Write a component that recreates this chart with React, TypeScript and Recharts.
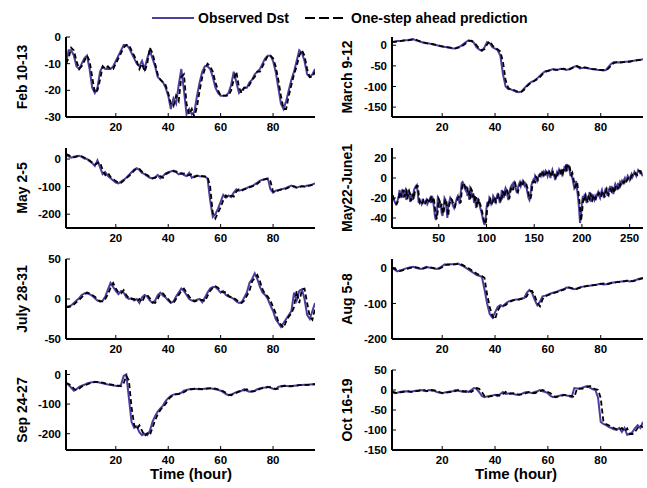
import { LineChart, Line, XAxis, YAxis } from "recharts";

// hourly Dst (nT), observed and one-step-ahead predicted, per storm interval
const febObs = [-10, -5, -5, -7, -11, -12, -10, -8, -7, -12, -19, -21, -19, -13, -11, -12, -12, -12, -11, -9, -7, -5, -3, -3, -4, -6, -8, -10, -11, -9, -12, -8, -5, -8, -11, -15, -16, -17, -19, -22, -27, -23, -25, -18, -12, -20, -29, -27, -29, -28, -22, -17, -13, -11, -11, -12, -15, -19, -21, -22, -22, -22, -21, -18, -13, -17, -21, -20, -19, -19, -17, -16, -14, -13, -12, -10, -8, -7, -7, -9, -13, -19, -25, -27, -24, -20, -16, -13, -9, -5, -6, -9, -14, -15, -14, -12];
const febPred = [-10, -8, -4, -5, -9, -12, -11, -9, -7, -9, -15, -21, -20, -16, -11, -12, -11, -12, -12, -10, -8, -6, -4, -3, -3, -5, -7, -9, -12, -10, -13, -10, -4, -6, -10, -14, -16, -17, -18, -21, -25, -26, -22, -24, -15, -14, -25, -29, -27, -30, -26, -20, -15, -12, -10, -11, -13, -17, -20, -22, -22, -22, -22, -20, -16, -13, -19, -21, -19, -19, -18, -16, -15, -13, -13, -11, -9, -7, -7, -8, -11, -16, -22, -27, -27, -22, -18, -14, -11, -7, -5, -7, -12, -15, -15, -13];

const marObs = [8, 9, 10, 10, 11, 12, 12, 14, 15, 12, 10, 8, 6, 5, 4, 3, 1, 0, -2, -3, -4, -5, -6, -8, -7, -5, -2, 3, 8, 12, 10, 6, -5, -10, -14, -5, 8, 5, -5, -8, -12, -25, -70, -100, -106, -107, -110, -113, -114, -112, -105, -98, -92, -88, -85, -80, -74, -68, -63, -62, -60, -58, -60, -59, -57, -58, -60, -58, -55, -52, -50, -56, -55, -54, -56, -57, -58, -59, -60, -60, -61, -60, -52, -45, -41, -42, -41, -42, -40, -40, -39, -38, -37, -36, -35, -34];
const marPred = [8, 8, 9, 10, 11, 12, 12, 13, 14, 14, 11, 9, 7, 5, 4, 3, 2, 0, -1, -3, -4, -5, -6, -7, -8, -6, -4, 0, 5, 10, 11, 8, 0, -8, -12, -10, 2, 10, 0, -7, -10, -15, -40, -85, -104, -107, -108, -111, -113, -113, -108, -100, -94, -90, -86, -82, -77, -70, -65, -62, -61, -59, -59, -60, -58, -57, -59, -59, -56, -53, -51, -53, -56, -54, -55, -57, -58, -58, -60, -60, -60, -61, -56, -48, -43, -41, -42, -41, -41, -40, -40, -38, -38, -36, -36, -34];

const mayObs = [15, 10, 5, 8, 10, 12, 8, 2, 0, -8, -15, -25, -5, -30, -55, -48, -62, -70, -78, -85, -88, -82, -75, -68, -58, -48, -38, -33, -40, -50, -55, -62, -68, -70, -66, -58, -70, -62, -52, -48, -45, -42, -48, -55, -50, -58, -62, -50, -68, -62, -60, -62, -63, -64, -70, -150, -210, -200, -180, -155, -130, -140, -132, -138, -122, -110, -115, -112, -108, -105, -100, -98, -92, -85, -78, -75, -72, -70, -110, -122, -115, -112, -110, -108, -105, -100, -96, -102, -104, -100, -98, -100, -96, -95, -92, -88];
const mayPred = [18, 14, 8, 6, 9, 11, 10, 5, 1, -5, -12, -20, -15, -12, -40, -58, -50, -65, -72, -80, -86, -86, -78, -70, -62, -52, -42, -35, -36, -46, -54, -58, -65, -70, -68, -62, -62, -68, -56, -50, -46, -44, -45, -52, -54, -52, -60, -58, -55, -66, -61, -61, -62, -63, -64, -100, -195, -215, -195, -175, -150, -132, -140, -133, -136, -118, -110, -115, -110, -107, -103, -99, -96, -90, -82, -76, -74, -71, -80, -118, -120, -114, -111, -109, -107, -103, -98, -98, -103, -102, -99, -99, -98, -96, -94, -90];

const junObs = [
  -18, -20, -22, -24, -26, -25, -22, -18, -12, -20,
  -16, -11, -20, -14, -12, -22, -18, -12, -15, -24,
  -20, -16, -22, -12, -10, -8, -7, -15, -25, -22,
  -24, -26, -22, -23, -25, -24, -22, -26, -24, -22,
  -20, -25, -18, -22, -30, -38, -42, -35, -20, -22,
  -30, -25, -35, -38, -28, -20, -22, -30, -40, -28,
  -24, -20, -22, -25, -28, -30, -26, -24, -20, -18,
  -22, -26, -15, -5, -4, -6, -10, -12, -8, -18,
  -14, -22, -10, -12, -20, -15, -25, -18, -30, -26,
  -20, -24, -28, -32, -35, -40, -44, -47, -42, -30,
  -24, -28, -20, -22, -26, -24, -18, -20, -25, -22,
  -18, -15, -20, -25, -22, -12, -15, -20, -14, -10,
  -12, -18, -22, -15, -10, -8, -12, -5, -4, -8,
  -12, -15, -10, -6, -4, -8, -5, -3, -6, -8,
  -6, -10, -15, -20, -22, -18, -8, -4, -2, -5,
  2, 0, -3, 0, 3, 4, 2, 5, 3, 6,
  4, 7, 5, 2, 6, 4, 0, 5, 8, 4,
  2, -2, 3, 6, 4, 8, 5, 7, 4, 8,
  8, 12, 6, 14, 10, 13, 8, 2, 6, 0,
  -5, -10, -8, -3, -12, -20, -30, -45, -38, -25,
  -18, -22, -16, -20, -25, -18, -22, -14, -20, -24,
  -16, -20, -22, -18, -20, -16, -14, -18, -20, -15,
  -12, -16, -20, -14, -10, -15, -18, -12, -10, -14,
  -8, -12, -16, -10, -6, -8, -12, -5, -8, -4,
  -6, -3, -5, -2, 0, -3, -1, 2, 0, -2,
  2, 4, 1, 3, 6, 4, 2, 5, 8, 7,
  5, 6, 3, 2,
];
const junPred = [
  -18, -18, -21, -22, -24, -26, -24, -21, -16, -14,
  -19, -15, -12, -19, -15, -13, -21, -17, -13, -16,
  -23, -19, -17, -21, -13, -10, -8, -8, -16, -24,
  -22, -24, -25, -22, -23, -25, -23, -22, -25, -23,
  -22, -20, -24, -19, -22, -30, -37, -41, -33, -21,
  -23, -29, -26, -34, -36, -27, -21, -23, -31, -38,
  -27, -24, -21, -22, -25, -28, -29, -25, -23, -20,
  -19, -22, -25, -14, -6, -5, -7, -10, -11, -9,
  -17, -15, -21, -11, -13, -19, -16, -24, -19, -29,
  -25, -21, -25, -28, -32, -36, -41, -45, -46, -40,
  -29, -25, -27, -21, -23, -25, -23, -19, -21, -24,
  -21, -18, -16, -20, -24, -21, -13, -16, -19, -13,
  -11, -13, -18, -21, -14, -10, -9, -12, -6, -5,
  -9, -12, -14, -10, -7, -5, -8, -6, -4, -7,
  -8, -7, -10, -15, -20, -21, -17, -8, -4, -3,
  -4, 1, 0, -2, 0, 3, 4, 2, 5, 3,
  6, 4, 6, 5, 3, 6, 4, 1, 5, 7,
  4, 2, -1, 3, 5, 4, 7, 5, 7, 4,
  8, 8, 11, 7, 13, 10, 12, 7, 3, 5,
  0, -5, -9, -7, -4, -12, -19, -29, -43, -36,
  -25, -19, -21, -17, -20, -24, -19, -21, -15, -20,
  -22, -17, -20, -21, -18, -19, -16, -15, -18, -19,
  -15, -13, -16, -19, -14, -11, -15, -17, -12, -11,
  -13, -9, -12, -15, -10, -7, -8, -11, -6, -8,
  -5, -6, -4, -5, -2, -1, -3, -1, 1, 0,
  -1, 2, 3, 2, 3, 5, 4, 3, 5, 7,
  7, 5, 6, 4,
];

const julObs = [-10, -9, -8, -5, -2, 1, 5, 7, 7, 6, 4, 1, -2, -3, -2, 3, 12, 20, 15, 10, 6, 10, 8, 2, 0, 1, -2, 0, -5, 2, 5, 3, -2, -5, -2, 5, 8, 4, 2, -2, -5, -3, 3, 8, 13, 10, 5, 0, -2, -2, -1, 0, -4, 2, 8, 13, 15, 15, 12, 8, 10, 5, 3, 2, 0, -3, -5, -4, 2, 8, 20, 25, 32, 25, 15, 8, 5, 0, -8, -15, -25, -30, -35, -30, -25, -20, -15, 8, -2, 10, 12, 0, -20, -25, -15, -5];
const julPred = [-10, -10, -9, -7, -4, -1, 2, 6, 8, 7, 5, 3, 0, -3, -3, 0, 6, 14, 20, 13, 8, 7, 11, 5, 1, 0, 0, -3, 0, -4, 3, 5, 1, -4, -5, 0, 7, 7, 3, 0, -4, -5, 0, 5, 10, 13, 8, 3, -1, -3, -2, -1, -1, -3, 4, 10, 14, 16, 14, 10, 8, 9, 4, 2, 1, -1, -4, -5, -2, 4, 10, 22, 26, 30, 22, 12, 6, 3, -2, -10, -18, -28, -32, -36, -28, -22, -18, -10, 10, -5, 12, 13, -5, -22, -26, -12];

const augObs = [0, -5, -10, -7, -5, -2, 0, 2, 3, 0, -2, -3, 0, 3, 1, 0, -2, -3, 0, 5, 10, 9, 10, 10, 11, 12, 8, 5, 0, -5, -10, -15, -20, -22, -25, -60, -100, -130, -140, -125, -110, -105, -108, -100, -95, -92, -90, -89, -88, -86, -85, -70, -62, -70, -90, -105, -95, -80, -78, -75, -72, -70, -68, -65, -62, -60, -55, -56, -58, -60, -58, -55, -53, -52, -50, -50, -48, -48, -46, -45, -47, -46, -44, -42, -41, -40, -39, -38, -37, -36, -38, -37, -35, -32, -30, -28];
const augPred = [0, -2, -6, -9, -7, -4, -2, 0, 2, 2, 0, -2, -2, 1, 2, 1, -1, -2, -2, 2, 7, 10, 9, 10, 10, 11, 11, 7, 3, -1, -6, -11, -16, -20, -23, -28, -75, -110, -135, -145, -120, -108, -106, -105, -98, -94, -91, -90, -89, -87, -86, -80, -65, -65, -78, -98, -108, -88, -80, -77, -74, -71, -69, -67, -64, -61, -58, -55, -57, -59, -59, -56, -54, -52, -51, -50, -49, -48, -47, -45, -44, -47, -45, -43, -42, -40, -40, -38, -38, -36, -36, -38, -36, -34, -31, -29];

const sepObs = [-30, -35, -45, -55, -50, -42, -38, -35, -30, -28, -26, -25, -26, -28, -30, -32, -34, -35, -37, -38, -40, -35, -5, 0, -80, -160, -180, -175, -195, -205, -200, -205, -190, -160, -140, -125, -115, -105, -90, -80, -72, -68, -66, -65, -62, -55, -52, -50, -49, -48, -49, -50, -49, -48, -47, -47, -48, -50, -52, -55, -60, -66, -70, -68, -64, -60, -57, -55, -50, -55, -58, -57, -55, -50, -47, -45, -44, -42, -45, -48, -50, -42, -40, -38, -39, -40, -39, -38, -37, -36, -36, -35, -35, -34, -33, -32];
const sepPred = [-28, -32, -38, -48, -54, -48, -41, -37, -34, -30, -28, -26, -25, -26, -28, -30, -32, -34, -35, -37, -38, -40, -30, -5, -20, -110, -170, -185, -172, -190, -208, -198, -205, -180, -155, -135, -120, -110, -100, -85, -76, -70, -67, -66, -64, -60, -54, -51, -50, -49, -48, -49, -50, -49, -48, -47, -47, -48, -50, -53, -57, -62, -68, -70, -66, -62, -58, -56, -54, -50, -56, -58, -56, -53, -49, -46, -45, -43, -43, -46, -49, -48, -41, -39, -38, -39, -40, -38, -38, -36, -36, -36, -35, -35, -34, -33];

const octObs = [-5, -8, -7, -5, -4, -3, -4, -5, -3, -2, -1, 0, -2, -3, 0, -1, -2, -5, -7, -8, -6, -5, -4, -3, 0, -2, -3, -5, -2, -5, 0, 5, 3, -5, -15, -18, -16, -15, -14, -12, -15, -10, -5, -10, -9, -8, -10, -12, -11, -10, -7, -5, -6, -8, -5, -3, 0, -3, -5, -8, -15, -18, -16, -15, -13, -12, -14, -15, -18, 5, 4, 3, 6, 8, 10, 5, 2, 0, -20, -80, -85, -88, -92, -95, -98, -100, -95, -105, -95, -112, -110, -105, -95, -88, -95, -80];
const octPred = [-4, -6, -8, -6, -5, -4, -3, -4, -5, -3, -2, -1, 0, -2, -3, 0, -1, -2, -5, -7, -8, -6, -5, -4, -3, 0, -2, -3, -5, -2, -5, 0, 5, 3, -5, -15, -18, -16, -15, -14, -12, -15, -10, -5, -10, -9, -8, -10, -12, -11, -10, -7, -5, -6, -8, -5, -3, 0, -3, -5, -8, -15, -18, -16, -15, -13, -12, -14, -15, -18, 3, 4, 3, 6, 8, 10, 5, 2, 0, -20, -78, -85, -88, -92, -95, -98, -100, -95, -104, -96, -110, -110, -104, -95, -88, -94];

const hourTicks = [20, 40, 60, 80];
const longHourTicks = [50, 100, 150, 200, 250];

const FONT = "'Liberation Sans', Arial, Helvetica, sans-serif";
const OBS_COLOR = "#503c9e";
const PLOT_H = 80;
const ROW_TOPS = [37, 148, 259, 370];

type PanelProps = {
  label: string;
  obs: number[];
  pred: number[];
  hours: number;
  xTicks: number[];
  yDomain: [number, number];
  yTicks: number[];
  col: 0 | 1;
  row: number;
};

function Panel({ label, obs, pred, hours, xTicks, yDomain, yTicks, col, row }: PanelProps) {
  const rows = obs.map((v, i) => ({ h: i + 1, obs: v, pred: pred[i] }));
  const left = col === 0 ? 0 : 323;
  const width = col === 0 ? 320 : 324;
  const axisW = col === 0 ? 66 : 69;
  const rightM = col === 0 ? 5 : 4;
  const top = ROW_TOPS[row] - 6;
  const tickStyle = { fontSize: 11.5, fontWeight: 700, fill: "#000", fontFamily: FONT };
  const box = { stroke: "#000", strokeWidth: 2 };
  const labelH = 120;

  return (
    <div style={{ position: "absolute", left, top }}>
      <LineChart
        width={width}
        height={6 + PLOT_H + 24}
        data={rows}
        margin={{ top: 6, right: rightM, bottom: 0, left: 0 }}
      >
        <XAxis
          dataKey="h"
          type="number"
          domain={[1, hours]}
          ticks={xTicks}
          allowDataOverflow
          height={24}
          tickSize={-4}
          tickMargin={10}
          tick={tickStyle}
          tickLine={{ stroke: "#000" }}
          axisLine={box}
        />
        <XAxis
          xAxisId="top"
          orientation="top"
          type="number"
          domain={[1, hours]}
          ticks={xTicks}
          allowDataOverflow
          height={0}
          tickSize={-4}
          tick={false}
          tickLine={{ stroke: "#000" }}
          axisLine={box}
        />
        <YAxis
          type="number"
          domain={yDomain}
          ticks={yTicks}
          allowDataOverflow
          width={axisW}
          tickSize={-4}
          tickMargin={9}
          tick={tickStyle}
          tickLine={{ stroke: "#000" }}
          axisLine={box}
        />
        <YAxis
          yAxisId="right"
          orientation="right"
          type="number"
          domain={yDomain}
          ticks={yTicks}
          allowDataOverflow
          width={0}
          tickSize={-4}
          tick={false}
          tickLine={{ stroke: "#000" }}
          axisLine={box}
        />
        <Line
          dataKey="obs"
          stroke={OBS_COLOR}
          strokeWidth={2}
          dot={false}
          activeDot={false}
          isAnimationActive={false}
        />
        <Line
          dataKey="pred"
          stroke="#000"
          strokeWidth={1.8}
          strokeDasharray="5 3"
          dot={false}
          activeDot={false}
          isAnimationActive={false}
        />
      </LineChart>
      <svg
        width={30}
        height={labelH}
        style={{ position: "absolute", left: col === 0 ? 7 : 9, top: 6 + PLOT_H / 2 - labelH / 2 }}
      >
        <text
          x={15}
          y={labelH / 2}
          transform={`rotate(-90 15 ${labelH / 2})`}
          textAnchor="middle"
          dominantBaseline="central"
          fontFamily={FONT}
          fontWeight={700}
          fontSize={14}
        >
          {label}
        </text>
      </svg>
    </div>
  );
}

export default function App() {
  return (
    <div
      style={{
        position: "absolute",
        left: 0,
        top: 0,
        width: 647,
        height: 488,
        background: "#fff",
        overflow: "hidden",
      }}
    >
      <svg width={647} height={30} style={{ position: "absolute", left: 0, top: 0 }}>
        <line x1={152} x2={194} y1={18} y2={18} stroke={OBS_COLOR} strokeWidth={2} />
        <text x={198} y={23} fontFamily={FONT} fontWeight={700} fontSize={14}>
          Observed Dst
        </text>
        <line x1={305} x2={346} y1={18} y2={18} stroke="#000" strokeWidth={2} strokeDasharray="10 4" />
        <text x={351} y={23} fontFamily={FONT} fontWeight={700} fontSize={14}>
          One-step ahead prediction
        </text>
      </svg>

      <Panel label="Feb 10-13" obs={febObs} pred={febPred} hours={96} xTicks={hourTicks} yDomain={[-30, 0]} yTicks={[-30, -20, -10, 0]} col={0} row={0} />
      <Panel label="March 9-12" obs={marObs} pred={marPred} hours={96} xTicks={hourTicks} yDomain={[-174, 20]} yTicks={[-150, -100, -50, 0]} col={1} row={0} />
      <Panel label="May  2-5" obs={mayObs} pred={mayPred} hours={96} xTicks={hourTicks} yDomain={[-250, 40]} yTicks={[-200, -100, 0]} col={0} row={1} />
      <Panel label="May22-June1" obs={junObs} pred={junPred} hours={264} xTicks={longHourTicks} yDomain={[-50, 30]} yTicks={[-40, -20, 0, 20]} col={1} row={1} />
      <Panel label="July 28-31" obs={julObs} pred={julPred} hours={96} xTicks={hourTicks} yDomain={[-50, 50]} yTicks={[-50, 0, 50]} col={0} row={2} />
      <Panel label="Aug 5-8" obs={augObs} pred={augPred} hours={96} xTicks={hourTicks} yDomain={[-200, 25]} yTicks={[-200, -100, 0]} col={1} row={2} />
      <Panel label="Sep 24-27" obs={sepObs} pred={sepPred} hours={96} xTicks={hourTicks} yDomain={[-255, 15]} yTicks={[-200, -100, 0]} col={0} row={3} />
      <Panel label="Oct 16-19" obs={octObs} pred={octPred} hours={96} xTicks={hourTicks} yDomain={[-150, 50]} yTicks={[-150, -100, -50, 0, 50]} col={1} row={3} />

      <svg width={647} height={30} style={{ position: "absolute", left: 0, top: 460 }}>
        <text x={191} y={19} textAnchor="middle" fontFamily={FONT} fontWeight={700} fontSize={15}>
          Time (hour)
        </text>
        <text x={516} y={19} textAnchor="middle" fontFamily={FONT} fontWeight={700} fontSize={15}>
          Time (hour)
        </text>
      </svg>
    </div>
  );
}
